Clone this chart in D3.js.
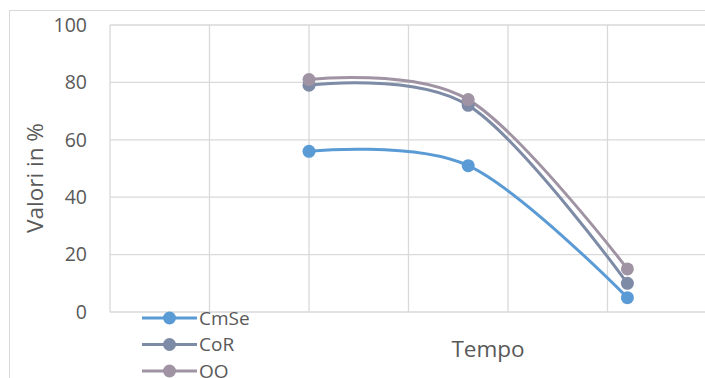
<!DOCTYPE html>
<html>
<head>
<meta charset="utf-8">
<script src="https://cdn.jsdelivr.net/npm/d3@7"></script>
<style>
  body { margin: 0; background: #fff; }
  svg { font-family: "Open Sans", Lato, sans-serif; }
</style>
</head>
<body>
<div id="chart"></div>
<script>
// DATA
const timePoints = [2, 3.6, 5.2];
const seriesNames = ["CmSe", "CoR", "OO"];
const cmse = [56, 51, 5];
const cor = [79, 72, 10];
const oo = [81, 74, 15];
const yTicks = [0, 20, 40, 60, 80, 100];
const xGrid = [0, 1, 2, 3, 4, 5, 6];
const colors = ["#5b9bd5", "#7d8ba6", "#a093a3"];

const width = 705, height = 378;
const margin = { top: 25, left: 110 };
const plotBottom = 312;

const svg = d3.select("#chart").append("svg")
  .attr("width", width)
  .attr("height", height);

svg.append("rect").attr("width", width).attr("height", height).attr("fill", "#fff");

// chart border
svg.append("rect")
  .attr("x", 9.5).attr("y", 10.5)
  .attr("width", 720).attr("height", 400)
  .attr("fill", "none")
  .attr("stroke", "#d9d9d9")
  .attr("stroke-width", 1);

// scales
const x = d3.scaleLinear().domain([0, 6]).range([margin.left, 707]);
const y = d3.scaleLinear().domain([0, 100]).range([plotBottom, margin.top]);

// gridlines
svg.append("g").selectAll("line")
  .data(yTicks).join("line")
  .attr("x1", margin.left).attr("x2", 720)
  .attr("y1", d => y(d)).attr("y2", d => y(d))
  .attr("stroke", "#d9d9d9").attr("stroke-width", 1.3);

svg.append("g").selectAll("line")
  .data(xGrid).join("line")
  .attr("x1", d => x(d)).attr("x2", d => x(d))
  .attr("y1", y(0)).attr("y2", y(100))
  .attr("stroke", "#d9d9d9").attr("stroke-width", 1.3);

// y axis labels
const yAxis = svg.append("g")
  .attr("transform", `translate(${margin.left}, 0)`)
  .call(d3.axisLeft(y).tickValues(yTicks).tickSize(0).tickPadding(23));
yAxis.select(".domain").remove();
yAxis.selectAll("text")
  .attr("fill", "#595959")
  .style("font-size", "19.5px")
  .style("font-family", "'Open Sans', Lato, sans-serif");

// axis titles
svg.append("text")
  .attr("text-anchor", "middle")
  .attr("transform", "rotate(-90)")
  .attr("x", -178).attr("y", 43)
  .attr("fill", "#595959")
  .style("font-size", "22.5px")
  .text("Valori in %");

svg.append("text")
  .attr("text-anchor", "middle")
  .attr("x", 488).attr("y", 357)
  .attr("fill", "#595959")
  .style("font-size", "22.5px")
  .text("Tempo");

// lines
const allSeries = [cmse, cor, oo];
const line = d3.line()
  .x((d, i) => x(timePoints[i]))
  .y(d => y(d))
  .curve(d3.curveCardinal.tension(0));

allSeries.forEach((vals, s) => {
  svg.append("path")
    .attr("d", line(vals))
    .attr("fill", "none")
    .attr("stroke", colors[s])
    .attr("stroke-width", 3);
});

allSeries.forEach((vals, s) => {
  svg.append("g").selectAll("circle")
    .data(vals).join("circle")
    .attr("cx", (d, i) => x(timePoints[i]))
    .attr("cy", d => y(d))
    .attr("r", 6.5)
    .attr("fill", colors[s]);
});

// legend
const legend = svg.append("g").attr("transform", "translate(142, 318)");
seriesNames.forEach((name, i) => {
  const g = legend.append("g").attr("transform", `translate(0, ${i * 26.5})`);
  g.append("line")
    .attr("x1", 0).attr("x2", 55)
    .attr("stroke", colors[i]).attr("stroke-width", 3);
  g.append("circle")
    .attr("cx", 27.5).attr("r", 6.5)
    .attr("fill", colors[i]);
  g.append("text")
    .attr("x", 57).attr("y", 6.5)
    .attr("fill", "#595959")
    .style("font-size", "19px")
    .text(name);
});
</script>
</body>
</html>
